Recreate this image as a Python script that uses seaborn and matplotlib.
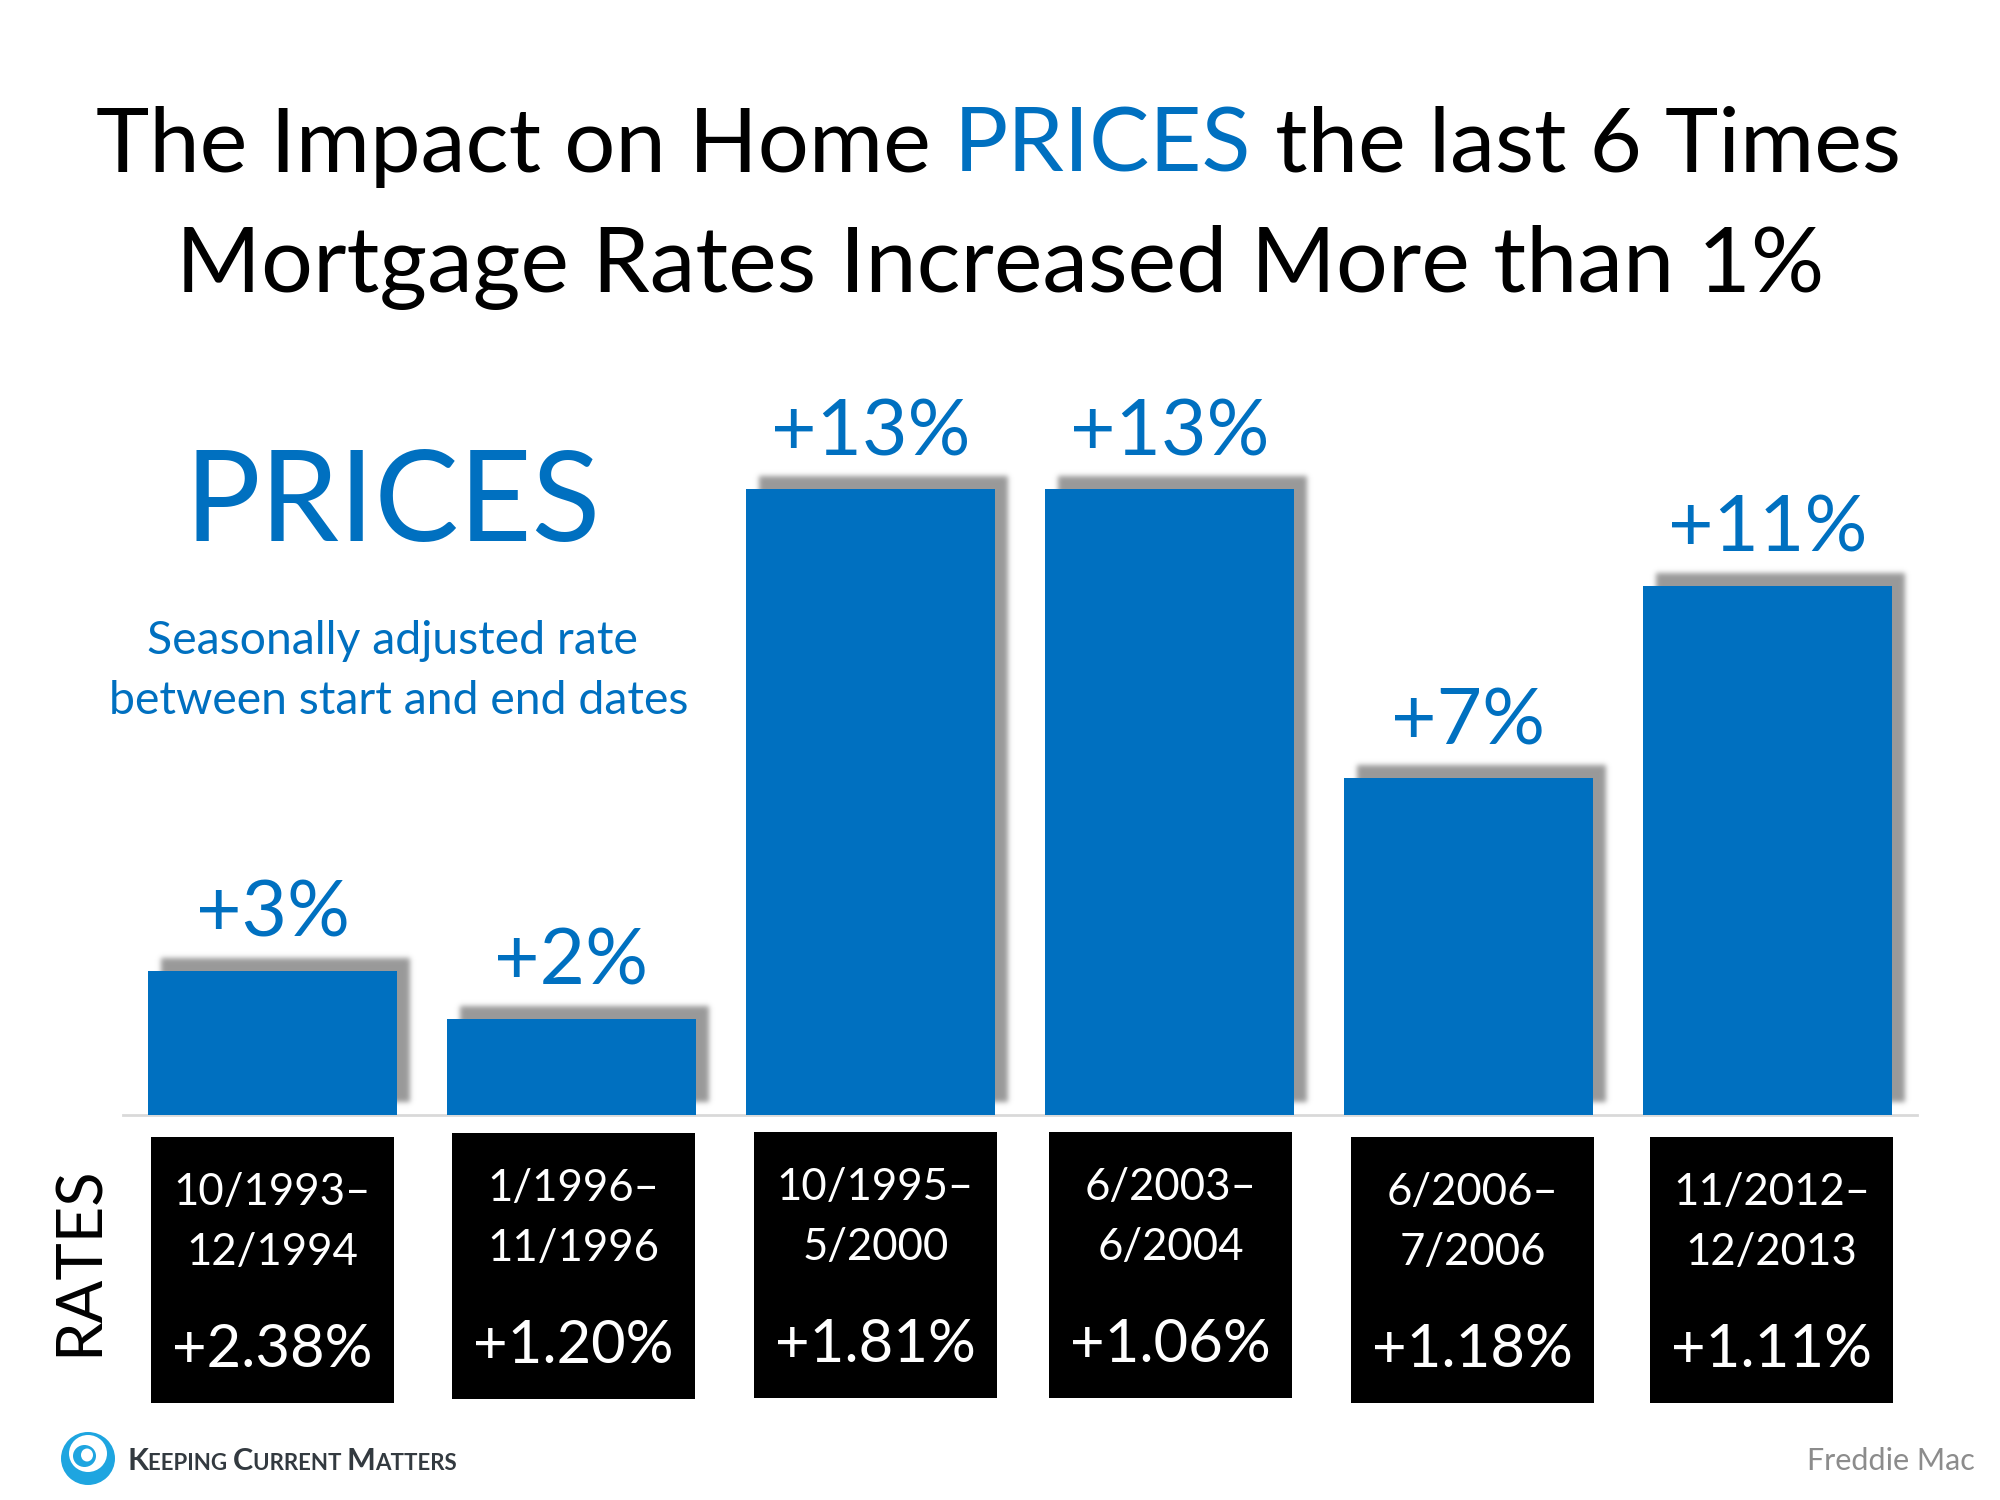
import matplotlib
matplotlib.use("Agg")
import matplotlib.pyplot as plt
from matplotlib.patches import Rectangle, Ellipse
from matplotlib.transforms import Affine2D
import numpy as np
import pandas as pd
import seaborn as sns

# ---- data ----
periods = ["10/1993–\n12/1994", "1/1996–\n11/1996", "10/1995–\n5/2000",
           "6/2003–\n6/2004", "6/2006–\n7/2006", "11/2012–\n12/2013"]
price_change = [3, 2, 13, 13, 7, 11]
rate_change = ["+2.38%", "+1.20%", "+1.81%", "+1.06%", "+1.18%", "+1.11%"]

# ---- layout (pixels in a 2000x1500 canvas) ----
box_left = [151, 452, 754, 1049, 1351, 1650]
box_top = [1137, 1133, 1132, 1132, 1137, 1137]
box_w, box_h = 243, 266

BLUE = "#0070C0"
FONT = "Lato"
W, H = 2000, 1500
sns.set_theme(style="white")
plt.rcParams["font.family"] = [FONT, "DejaVu Sans"]

fig = plt.figure(figsize=(20, 15), dpi=100, facecolor="white")

def fx(x): return x / W
def fy(y): return 1 - y / H
def pt(px): return px * 72 / 100

def soft_shadow(image, dpi):
    """Agg filter: gaussian-blur the alpha channel of a drawn patch."""
    pad = 12
    ny, nx, d = image.shape
    out = np.zeros((ny + 2 * pad, nx + 2 * pad, d))
    alpha = np.zeros((ny + 2 * pad, nx + 2 * pad))
    alpha[pad:-pad, pad:-pad] = image[:, :, 3]
    r = np.arange(-9, 10)
    k = np.exp(-r ** 2 / (2 * 2.6 ** 2))
    k /= k.sum()
    alpha = np.apply_along_axis(lambda v: np.convolve(v, k, mode="same"), 0, alpha)
    alpha = np.apply_along_axis(lambda v: np.convolve(v, k, mode="same"), 1, alpha)
    out[:, :, :3] = 0.6
    out[:, :, 3] = alpha
    return out, -pad, -pad

ax = fig.add_axes([fx(123), fy(1115), fx(1917 - 123), 722 / H])
df = pd.DataFrame({"period": periods, "change": price_change})
sns.barplot(data=df, x="period", y="change", color=BLUE, saturation=1,
            width=0.832, ax=ax, zorder=3)
ax.set_xlim(-0.5, 5.5)
ax.set_ylim(0, 15)
ax.set_xlabel(""); ax.set_ylabel("")
ax.set_xticks([]); ax.set_yticks([])
for s in ["top", "left", "right"]:
    ax.spines[s].set_visible(False)
ax.spines["bottom"].set_color("#d9d9d9")
ax.spines["bottom"].set_linewidth(2)
ax.patch.set_alpha(0)

# soft drop shadow behind each bar, derived from the bar's own geometry
for bar in list(ax.patches):
    bar.set_linewidth(0)
    sh = Rectangle(bar.get_xy(), bar.get_width(), bar.get_height(),
                   facecolor="#999999", edgecolor="none", zorder=2, clip_on=False)
    ax.add_patch(sh)
    sh.set_transform(ax.transData + Affine2D().translate(13, 13))
    sh.set_agg_filter(soft_shadow)

# value labels
for i, v in enumerate(price_change):
    ax.annotate(f"+{v}%", xy=(i, v), xytext=(0, pt(34)), textcoords="offset points",
                ha="center", va="baseline", color=BLUE, fontsize=56.5)

# ---- title ----
rend = fig.canvas.get_renderer()
parts = [("The Impact on Home ", "black"), ("PRICES", BLUE), (" the last 6 Times", "black")]
TITLE_SIZE = 65
x = 96
for s, c in parts:
    t = fig.text(fx(x), fy(172), s, color=c, fontsize=TITLE_SIZE, ha="left", va="baseline")
    probe = fig.text(0, 0, "|" + s + "|", fontsize=TITLE_SIZE)
    bar_only = fig.text(0, 0, "||", fontsize=TITLE_SIZE)
    x += probe.get_window_extent(rend).width - bar_only.get_window_extent(rend).width
    probe.remove(); bar_only.remove()
fig.text(fx(1000), fy(292), "Mortgage Rates Increased More than 1%", color="black",
         fontsize=66, ha="center", va="baseline")

# ---- side texts ----
fig.text(fx(393), fy(541), "PRICES", color=BLUE, fontsize=91, ha="center", va="baseline")
fig.text(fx(392), fy(654), "Seasonally adjusted rate", color=BLUE, fontsize=33.4, ha="center", va="baseline")
fig.text(fx(399), fy(714), "between start and end dates", color=BLUE, fontsize=33.4, ha="center", va="baseline")
fig.text(fx(80), fy(1261), "RATES", color="black", fontsize=45.5, rotation=90, ha="center", va="center")

# ---- rate boxes ----
for l, t, per, rate in zip(box_left, box_top, periods, rate_change):
    fig.add_artist(Rectangle((fx(l), fy(t + box_h)), box_w / W, box_h / H,
                             transform=fig.transFigure, facecolor="black", edgecolor="none"))
    a, b = per.split("\n")
    cx = l + box_w / 2
    fig.text(fx(cx), fy(t + 68), a, color="white", fontsize=31.5, ha="center", va="baseline")
    fig.text(fx(cx), fy(t + 128), b, color="white", fontsize=31.5, ha="center", va="baseline")
    fig.text(fx(cx), fy(t + 230), rate, color="white", fontsize=43, ha="center", va="baseline")

# ---- footer ----
fig.text(fx(1975), fy(1470), "Freddie Mac", color="#8c8c8c", fontsize=22, ha="right", va="baseline")

for cxp, cyp, wp, hp, col in [(88, 1458.5, 54, 53, "#1EA5E0"), (88, 1453.5, 38, 37, "white"),
                              (84.5, 1456, 23, 22, "#1EA5E0"), (87, 1455, 12, 13, "white")]:
    fig.add_artist(Ellipse((fx(cxp), fy(cyp)), wp / W, hp / H, transform=fig.transFigure,
                           facecolor=col, edgecolor="none"))

x = 127
for s, size in [("K", 22), ("EEPING ", 16), ("C", 22), ("URRENT ", 16), ("M", 22), ("ATTERS", 16)]:
    t = fig.text(fx(x), fy(1470), s, color="#333A40", fontsize=size, fontweight="bold",
                 ha="left", va="baseline")
    probe = fig.text(0, 0, "|" + s + "|", fontsize=size, fontweight="bold")
    bar_only = fig.text(0, 0, "||", fontsize=size, fontweight="bold")
    x += probe.get_window_extent(rend).width - bar_only.get_window_extent(rend).width
    probe.remove(); bar_only.remove()

fig.savefig("out.png", dpi=100, facecolor="white")
